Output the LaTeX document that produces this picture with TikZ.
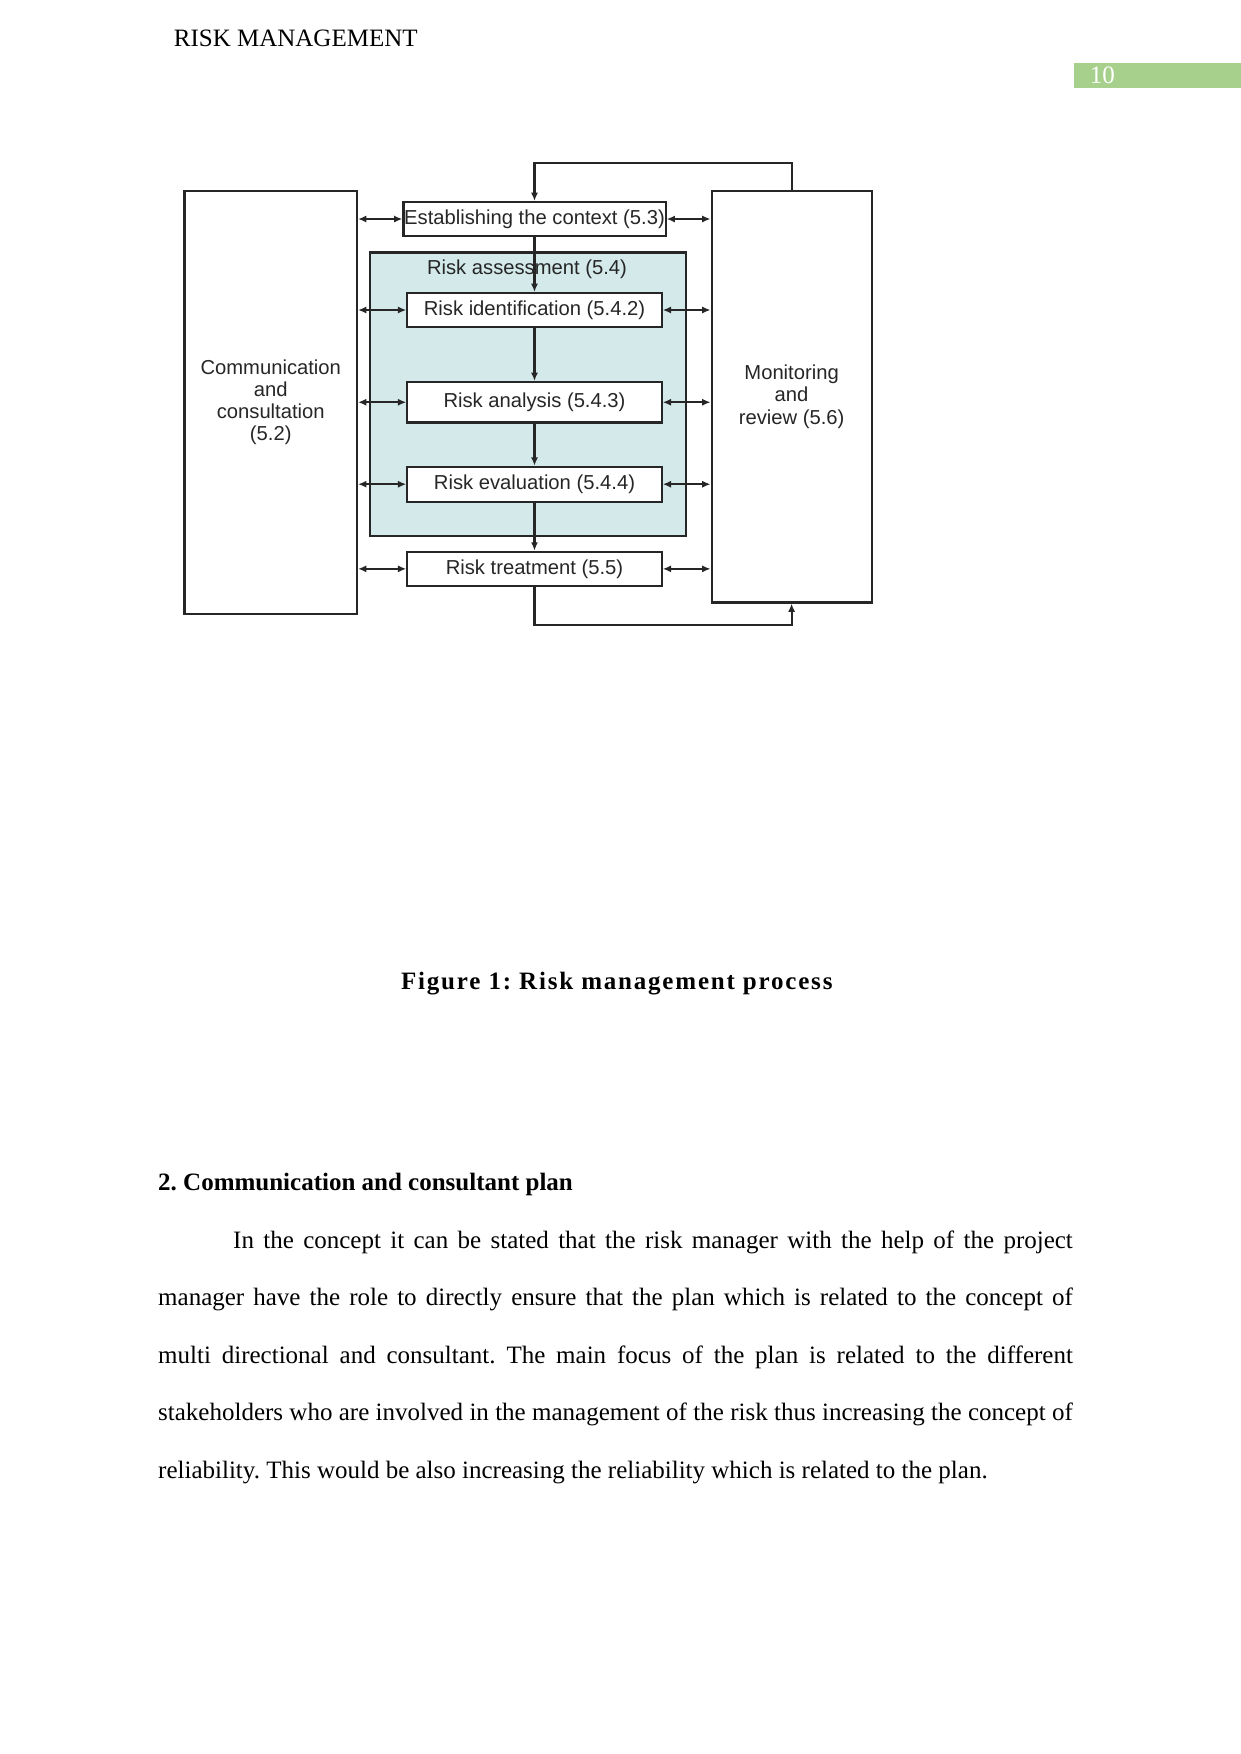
\documentclass[tikz,border=0pt]{standalone}
\usepackage{fontspec}
\setmainfont{Liberation Serif}
\newfontfamily\diagramfont{Liberation Sans}
\newfontfamily\captionfont[LetterSpace=7.2]{Liberation Serif}
\usetikzlibrary{arrows.meta,positioning}
\frenchspacing
\definecolor{pagegreen}{RGB}{168,208,141}
\definecolor{assesscolor}{RGB}{212,233,234}
\colorlet{framecolor}{black!85}
\tikzset{
  process box/.style={
      draw=framecolor, line width=1pt, fill=white,
      inner sep=0pt, minimum width=122.1pt, minimum height=16.3pt,
      font=\diagramfont\fontsize{9.7}{10.6}\selectfont, text=black!85
    },
  side box/.style={
      process box, align=center
    },
  flow arrow/.style={
      draw=framecolor, line width=1pt,
      -{Latex[length=4pt,width=3.4pt]}
    },
  both arrow/.style={
      draw=framecolor, line width=1pt,
      {Latex[length=4pt,width=3.4pt]}-{Latex[length=4pt,width=3.4pt]}
    }
}

\begin{document}
\begin{tikzpicture}[x=0.48pt, y=-0.48pt]
  \useasboundingbox (0,0) rectangle (1241,1754);

  % ------------------------------------------------------------------
  % Page header and page number.
  % ------------------------------------------------------------------
  \node[anchor=base west, inner sep=0pt, font=\fontsize{12}{14}\selectfont]
  (header) at (173.5,46.5) {RISK MANAGEMENT};

  \fill[pagegreen] (1074,62.7) rectangle (1241,88.4);
  \node[anchor=base west, inner sep=0pt, text=white,
    font=\fontsize{12}{14}\selectfont] (pageno) at (1089.5,83) {10};

  % ------------------------------------------------------------------
  % Side blocks.
  % ------------------------------------------------------------------
  \node[side box, minimum width=82.8pt, minimum height=203pt] (comm)
  at (270.75,402.5) {Communication\\and\\consultation\\(5.2)};

  \node[side box, minimum width=76.8pt, minimum height=197.5pt] (monit)
  at (791.6,396.75) {Monitoring\\and\\review (5.6)};

  % ------------------------------------------------------------------
  % Central column of process steps.
  % ------------------------------------------------------------------
  \node[draw=framecolor, line width=1pt, fill=assesscolor,
    minimum width=151.7pt, minimum height=136.1pt, inner sep=0pt]
  (assess) at (528,394.25) {};
  \node[font=\diagramfont\fontsize{9.7}{10.6}\selectfont, text=black!85]
  (assesslabel) at (527,269) {Risk assessment (5.4)};

  \node[process box, minimum width=125.8pt] (context) at (534.5,219)
  {Establishing the context (5.3)};
  \node[process box] (ident) at (534.5,310) {Risk identification (5.4.2)};
  \node[process box, minimum height=19.4pt] (analysis) at (534.5,402.25)
  {Risk analysis (5.4.3)};
  \node[process box, minimum height=16.8pt] (evaluation) at (534.5,484.2)
  {Risk evaluation (5.4.4)};
  \node[process box, minimum height=16.5pt] (treatment) at (534.5,568.85)
  {Risk treatment (5.5)};

  \draw[flow arrow] (context.south) -- (ident.north);
  \draw[flow arrow] (ident.south) -- (analysis.north);
  \draw[flow arrow] (analysis.south) -- (evaluation.north);
  \draw[flow arrow] (evaluation.south) -- (treatment.north);

  % feedback loops through monitoring and review
  \coordinate (looptop) at (534.5,162.7);
  \coordinate (loopbottom) at (534.5,625);
  \draw[flow arrow] (monit.north) |- (looptop) -- (context.north);
  \draw[flow arrow] (treatment.south) -- (loopbottom) -| (monit.south);

  % two-way links to the side blocks
  \foreach \stage in {context,ident,analysis,evaluation,treatment}{
    \draw[both arrow] (comm.east |- \stage.west) -- (\stage.west);
    \draw[both arrow] (\stage.east) -- (monit.west |- \stage.east);
  }

  % ------------------------------------------------------------------
  % Caption and following section.
  % ------------------------------------------------------------------
  \node[anchor=base west, inner sep=0pt,
    font=\captionfont\bfseries\fontsize{12}{14}\selectfont]
  (caption) at (400.7,989.5) {Figure 1: Risk management process};

  \node[anchor=base west, inner sep=0pt,
    font=\bfseries\fontsize{12}{14}\selectfont]
  (heading) at (157.8,1190.5) {2. Communication and consultant plan};

  \node[anchor=base west, inner sep=0pt] (para) at (157.8,1248.3)
  {\parbox[t]{439pt}{\fontsize{12}{27.6}\selectfont
      \hspace*{36pt}In the concept it can be stated that the risk manager
      with the help of the project\linebreak
      manager have the role to directly ensure that the plan which is
      related to the concept of\linebreak
      multi directional and consultant. The main focus of the plan is
      related to the different\linebreak
      stakeholders who are involved in the management of the risk thus
      increasing the concept of\linebreak
      reliability. This would be also increasing the reliability which is
      related to the plan.}};

\end{tikzpicture}
\end{document}
